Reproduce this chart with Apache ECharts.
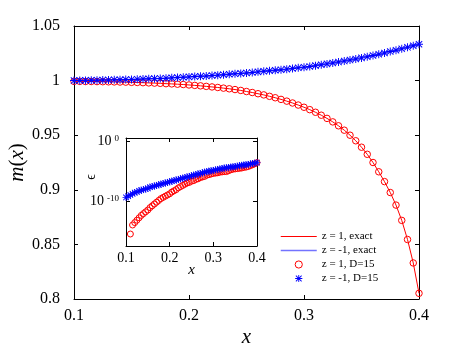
<!DOCTYPE html>
<html>
<head>
<meta charset="utf-8">
<script src="https://cdn.jsdelivr.net/npm/echarts@6/dist/echarts.min.js"></script>
<style>
  html, body { margin: 0; padding: 0; background: #fff; }
  #chart { width: 463px; height: 353px; }
</style>
</head>
<body>
<div id="chart"></div>
<script>
// x grid of the main plot (and of the inset)
const xs = [
  0.100, 0.105, 0.110, 0.115, 0.120, 0.125, 0.130, 0.135, 0.140, 0.145,
  0.150, 0.155, 0.160, 0.165, 0.170, 0.175, 0.180, 0.185, 0.190, 0.195,
  0.200, 0.205, 0.210, 0.215, 0.220, 0.225, 0.230, 0.235, 0.240, 0.245,
  0.250, 0.255, 0.260, 0.265, 0.270, 0.275, 0.280, 0.285, 0.290, 0.295,
  0.300, 0.305, 0.310, 0.315, 0.320, 0.325, 0.330, 0.335, 0.340, 0.345,
  0.350, 0.355, 0.360, 0.365, 0.370, 0.375, 0.380, 0.385, 0.390, 0.395,
  0.400
];

// m(x) for z = 1
const mPlus = [
  0.9993, 0.9993, 0.9992, 0.9992, 0.9991, 0.9990, 0.9989, 0.9988, 0.9987, 0.9986,
  0.9984, 0.9983, 0.9981, 0.9979, 0.9977, 0.9975, 0.9972, 0.9970, 0.9967, 0.9964,
  0.9960, 0.9956, 0.9952, 0.9947, 0.9942, 0.9937, 0.9931, 0.9925, 0.9918, 0.9910,
  0.9900, 0.9891, 0.9880, 0.9869, 0.9856, 0.9843, 0.9828, 0.9812, 0.9795, 0.9776,
  0.9756, 0.9734, 0.9710, 0.9683, 0.9654, 0.9622, 0.9586, 0.9546, 0.9500, 0.9449,
  0.9390, 0.9325, 0.9250, 0.9165, 0.9075, 0.8975, 0.8860, 0.8720, 0.8545, 0.8330,
  0.8052
];

// m(x) for z = -1
const mMinus = [
  1.0000, 1.0001, 1.0002, 1.0003, 1.0004, 1.0005, 1.0006, 1.0007, 1.0008, 1.0010,
  1.0011, 1.0013, 1.0014, 1.0016, 1.0018, 1.0020, 1.0022, 1.0025, 1.0028, 1.0031,
  1.0034, 1.0037, 1.0040, 1.0043, 1.0047, 1.0050, 1.0054, 1.0058, 1.0062, 1.0066,
  1.0070, 1.0075, 1.0080, 1.0085, 1.0090, 1.0095, 1.0100, 1.0105, 1.0111, 1.0117,
  1.0123, 1.0130, 1.0137, 1.0145, 1.0153, 1.0161, 1.0170, 1.0179, 1.0188, 1.0198,
  1.0208, 1.0219, 1.0230, 1.0241, 1.0253, 1.0266, 1.0278, 1.0291, 1.0305, 1.0319,
  1.0333
];

// inset: error epsilon, as powers of ten
const epsXPlus = xs.slice(2); // z = 1 starts at x = 0.11
const epsPlusExp = [
  -15.5, -14.0, -13.6, -13.2, -12.8, -12.4, -12.1, -11.8,
  -11.5, -11.1, -10.8, -10.5, -10.2, -9.9, -9.6, -9.4, -9.2, -9.0,
  -8.8, -8.5, -8.3, -8.1, -7.8, -7.6, -7.4, -7.2, -7.0, -6.9,
  -6.7, -6.6, -6.4, -6.3, -6.1, -6.0, -5.9, -5.7, -5.6, -5.5,
  -5.4, -5.35, -5.3, -5.2, -5.15, -5.1, -5.1, -4.95, -4.8, -4.7,
  -4.65, -4.6, -4.55, -4.5, -4.4, -4.35, -4.25, -4.1, -3.95, -3.8,
  -3.6
];
const epsMinusExp = [
  -9.4, -9.2, -9.0, -8.8, -8.6, -8.5, -8.3, -8.2, -8.1, -8.0,
  -7.9, -7.7, -7.6, -7.5, -7.4, -7.3, -7.2, -7.1, -7.0, -6.9,
  -6.8, -6.7, -6.6, -6.5, -6.4, -6.3, -6.2, -6.1, -6.0, -5.9,
  -5.8, -5.7, -5.6, -5.5, -5.4, -5.3, -5.2, -5.1, -5.05, -4.95,
  -4.9, -4.8, -4.75, -4.65, -4.6, -4.5, -4.45, -4.4, -4.35, -4.3,
  -4.25, -4.2, -4.1, -4.05, -4.0, -3.95, -3.9, -3.8, -3.75, -3.7,
  -3.6
];

// tick labels
const xTicks = [0.1, 0.2, 0.3, 0.4];
const yTicks = [0.8, 0.85, 0.9, 0.95, 1, 1.05];
const insetXTicks = [0.1, 0.2, 0.3, 0.4];
const insetYTicks = [-10, 0];

const names = ["z = 1, exact", "z = -1, exact", "z = 1, D=15", "z = -1, D=15"];

const FONT = "Liberation Serif";
const RED = "#ff0000";
const BLUE = "#0000ff";
const LIGHTBLUE = "#7373ff";
const STAR = "path://M8.8,0L11.2,0L11.2,20L8.8,20Z M0,8.8L20,8.8L20,11.2L0,11.2Z " +
  "M1.2,2.9L2.9,1.2L18.8,17.1L17.1,18.8Z M17.1,1.2L18.8,2.9L2.9,18.8L1.2,17.1Z";

const pairs = (a, b) => a.map((v, i) => [v, b[i]]);

function boxAxis(gridIndex, position, min, max, ticks, showLabel, extra) {
  return Object.assign({
    type: "value",
    gridIndex: gridIndex,
    position: position,
    min: min,
    max: max,
    axisLine: { show: true, onZero: false, lineStyle: { color: "#000", width: 1 } },
    axisTick: { show: true, inside: true, length: 4, customValues: ticks, lineStyle: { color: "#000" } },
    axisLabel: { show: showLabel, customValues: ticks },
    splitLine: { show: false },
    nameMoveOverlap: false,
  }, extra || {});
}

const myChart = echarts.init(document.getElementById("chart"));

const option = {
  animation: false,
  backgroundColor: "#fff",
  grid: [
    { left: 74, top: 26, right: 44, bottom: 54, outerBoundsMode: "none" },
    { left: 126, top: 138, right: 206, bottom: 107, outerBoundsMode: "none",
      show: true, backgroundColor: "#fff", borderWidth: 0 },
  ],
  xAxis: [
    boxAxis(0, "bottom", 0.1, 0.4, xTicks, true, {
      axisLabel: { show: true, customValues: xTicks, margin: 9, fontFamily: FONT, fontSize: 16, color: "#000" },
      name: "x", nameLocation: "middle", nameGap: 28,
      nameTextStyle: { fontFamily: FONT, fontStyle: "italic", fontSize: 21, color: "#000" },
    }),
    boxAxis(0, "top", 0.1, 0.4, xTicks, false),
    boxAxis(1, "bottom", 0.1, 0.4, insetXTicks, true, {
      axisLabel: { show: true, customValues: insetXTicks, margin: 5, fontFamily: FONT, fontSize: 14, color: "#000" },
      name: "x", nameLocation: "middle", nameGap: 17,
      nameTextStyle: { fontFamily: FONT, fontStyle: "italic", fontSize: 15, color: "#000" },
    }),
    boxAxis(1, "top", 0.1, 0.4, insetXTicks, false),
  ],
  yAxis: [
    boxAxis(0, "left", 0.8, 1.05, yTicks, true, {
      axisLabel: { show: true, customValues: yTicks, margin: 14, fontFamily: FONT, fontSize: 16, color: "#000" },
      name: "{i|m}({i|x})", nameLocation: "middle", nameGap: 46,
      nameTextStyle: {
        fontFamily: FONT, fontSize: 21, color: "#000",
        rich: { i: { fontFamily: FONT, fontStyle: "italic", fontSize: 21, color: "#000" } },
      },
    }),
    boxAxis(0, "right", 0.8, 1.05, yTicks, false),
    boxAxis(1, "left", -17.5, 0.5, insetYTicks, true, {
      axisLabel: {
        show: true, customValues: insetYTicks, margin: 7, color: "#000",
        formatter: (v) => "{b|10}{s|" + v + "}",
        rich: {
          b: { fontFamily: FONT, fontSize: 14, color: "#000" },
          s: { fontFamily: FONT, fontSize: 9, color: "#000", verticalAlign: "top", padding: [0, 0, 0, 3] },
        },
      },
      name: "\u03f5", nameLocation: "middle", nameGap: 28,
      nameTextStyle: { fontFamily: FONT, fontSize: 14, color: "#000", padding: [0, 0, 0, 30] },
    }),
    boxAxis(1, "right", -17.5, 0.5, insetYTicks, false),
  ],
  legend: {
    orient: "vertical",
    left: 275,
    top: 226,
    itemWidth: 36,
    itemHeight: 9,
    itemGap: 3,
    selectedMode: false,
    textStyle: { fontFamily: FONT, fontSize: 11, color: "#000" },
    data: [
      { name: names[0], itemStyle: { opacity: 0 }, lineStyle: { color: RED, width: 1 } },
      { name: names[1], itemStyle: { opacity: 0 }, lineStyle: { color: LIGHTBLUE, width: 1.5 } },
      { name: names[2], lineStyle: { opacity: 0 }, itemStyle: { color: "rgba(255,0,0,0)", borderColor: RED, borderWidth: 1 } },
      { name: names[3], lineStyle: { opacity: 0 }, itemStyle: { color: BLUE } },
    ],
  },
  series: [
    {
      name: names[0], type: "line", xAxisIndex: 0, yAxisIndex: 0,
      data: pairs(xs, mPlus), symbol: "none",
      lineStyle: { color: RED, width: 1 }, itemStyle: { color: RED },
    },
    {
      name: names[1], type: "line", xAxisIndex: 0, yAxisIndex: 0,
      data: pairs(xs, mMinus), symbol: "none",
      lineStyle: { color: LIGHTBLUE, width: 1.5 }, itemStyle: { color: LIGHTBLUE },
    },
    {
      name: names[2], type: "line", xAxisIndex: 0, yAxisIndex: 0,
      data: pairs(xs, mPlus), symbol: "circle", symbolSize: 6.5, showAllSymbol: true,
      lineStyle: { width: 0, opacity: 0 },
      itemStyle: { color: "rgba(255,0,0,0)", borderColor: RED, borderWidth: 1 },
    },
    {
      name: names[3], type: "line", xAxisIndex: 0, yAxisIndex: 0,
      data: pairs(xs, mMinus), symbol: STAR, symbolSize: 8, showAllSymbol: true,
      lineStyle: { width: 0, opacity: 0 },
      itemStyle: { color: BLUE },
    },
    {
      name: "inset z = 1", type: "line", xAxisIndex: 2, yAxisIndex: 2,
      data: pairs(epsXPlus, epsPlusExp), symbol: "circle", symbolSize: 6, showAllSymbol: true,
      lineStyle: { width: 0, opacity: 0 },
      itemStyle: { color: "rgba(255,0,0,0)", borderColor: RED, borderWidth: 1 },
    },
    {
      name: "inset z = -1", type: "line", xAxisIndex: 2, yAxisIndex: 2,
      data: pairs(xs, epsMinusExp), symbol: STAR, symbolSize: 7, showAllSymbol: true,
      lineStyle: { width: 0, opacity: 0 },
      itemStyle: { color: BLUE },
    },
  ],
};

myChart.setOption(option);
</script>
</body>
</html>
